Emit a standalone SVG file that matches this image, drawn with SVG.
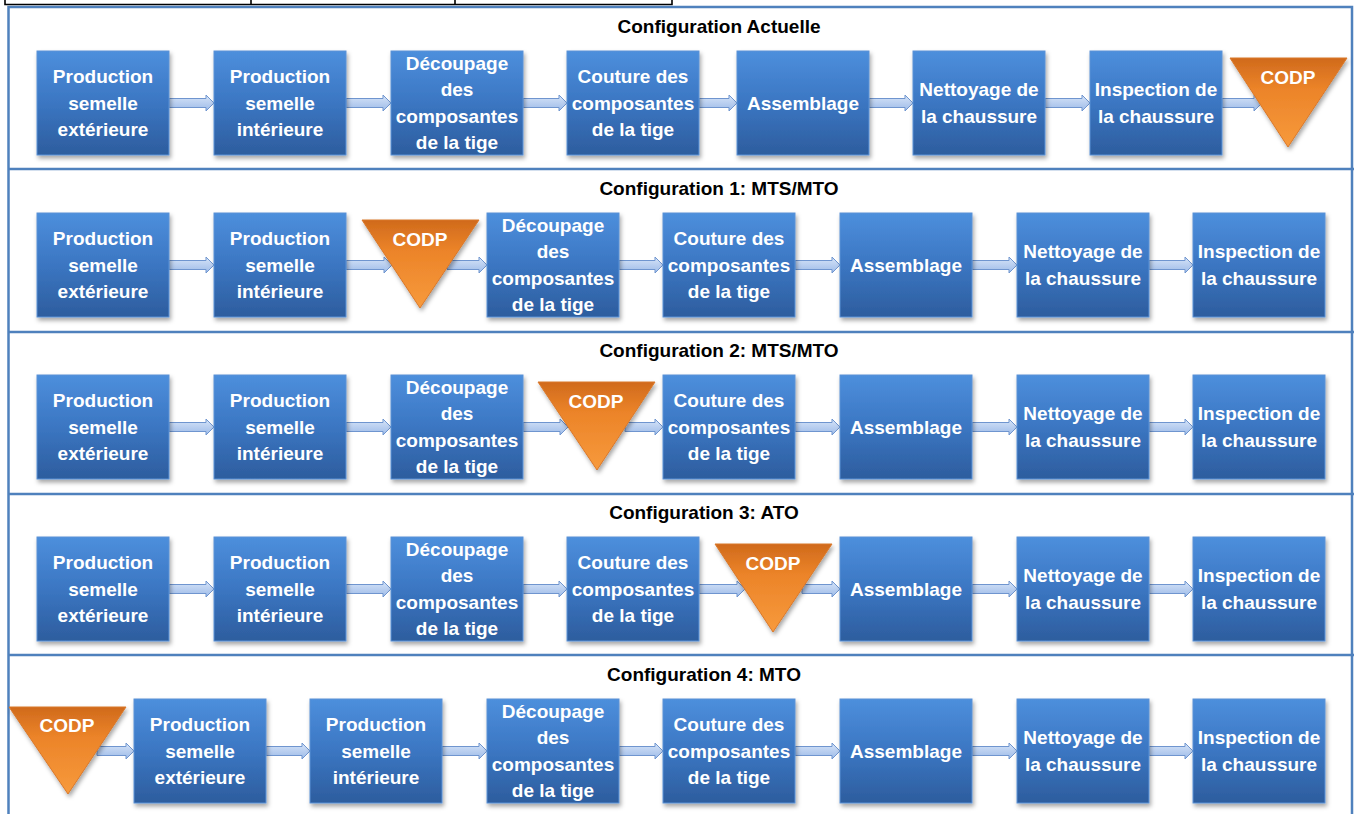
<svg xmlns="http://www.w3.org/2000/svg" width="1354" height="814" viewBox="0 0 1354 814">
<defs>
<linearGradient id="gBox" x1="0" y1="0" x2="0" y2="1">
<stop offset="0" stop-color="#4d8fdc"/>
<stop offset="0.5" stop-color="#3b76c2"/>
<stop offset="1" stop-color="#2d5d9e"/>
</linearGradient>
<linearGradient id="gTri" x1="0" y1="0" x2="0" y2="1">
<stop offset="0" stop-color="#d06a1c"/>
<stop offset="0.35" stop-color="#ec8429"/>
<stop offset="1" stop-color="#f79a3c"/>
</linearGradient>
<linearGradient id="gArr" x1="0" y1="0" x2="0" y2="1">
<stop offset="0" stop-color="#d6e4f8"/>
<stop offset="1" stop-color="#9dbbe8"/>
</linearGradient>
<filter id="sh" x="-10%" y="-10%" width="125%" height="130%">
<feDropShadow dx="1.5" dy="3" stdDeviation="2" flood-color="#000" flood-opacity="0.35"/>
</filter>
</defs>
<style>
.box{fill:url(#gBox);stroke:#5b92d6;stroke-width:1;filter:url(#sh)}
.tri{fill:url(#gTri);stroke:#d9782a;stroke-width:1;filter:url(#sh)}
.arr{fill:url(#gArr);stroke:#6f95cf;stroke-width:1}
.lbl{font-family:"Liberation Sans",Arial,sans-serif;font-weight:bold;font-size:19px;fill:#fff;text-anchor:middle}
.ttl{font-family:"Liberation Sans",Arial,sans-serif;font-weight:bold;font-size:19px;fill:#000;text-anchor:middle}
.frame{fill:none;stroke:#4f81bd;stroke-width:2.5}
.tbl{fill:none;stroke:#000;stroke-width:1.6}
</style>
<rect width="1354" height="814" fill="#fff"/>
<g id="table-remnant">
<path class="tbl" d="M5,0 V4.5 H672 V0 M251,0 V4.5 M455,0 V4.5"/>
</g>
<g id="frame">
<path class="frame" d="M8.5,814 V7 H1352 V814"/>
<path class="frame" d="M8.5,169 H1354 M8.5,332 H1354 M8.5,494 H1354 M8.5,655 H1354"/>
</g>
<g id="titles">
<text class="ttl" x="719" y="33">Configuration Actuelle</text>
<text class="ttl" x="719" y="195">Configuration 1: MTS/MTO</text>
<text class="ttl" x="719" y="357">Configuration 2: MTS/MTO</text>
<text class="ttl" x="704" y="519">Configuration 3: ATO</text>
<text class="ttl" x="704" y="681">Configuration 4: MTO</text>
</g>
<g id="connectors">
<path class="arr" d="M169,98.5H206V95L214,103L206,111V107.5H169Z"/>
<path class="arr" d="M346,98.5H383V95L391,103L383,111V107.5H346Z"/>
<path class="arr" d="M523,98.5H559V95L567,103L559,111V107.5H523Z"/>
<path class="arr" d="M699,98.5H729V95L737,103L729,111V107.5H699Z"/>
<path class="arr" d="M869,98.5H905V95L913,103L905,111V107.5H869Z"/>
<path class="arr" d="M1045,98.5H1082V95L1090,103L1082,111V107.5H1045Z"/>
<path class="arr" d="M1222,98.5H1254V95L1262,103L1254,111V107.5H1222Z"/>
<path class="arr" d="M169,260.5H206V257L214,265L206,273V269.5H169Z"/>
<path class="arr" d="M346,260.5H384V257L392,265L384,273V269.5H346Z"/>
<path class="arr" d="M447,260.5H479V257L487,265L479,273V269.5H447Z"/>
<path class="arr" d="M619,260.5H655V257L663,265L655,273V269.5H619Z"/>
<path class="arr" d="M795,260.5H832V257L840,265L832,273V269.5H795Z"/>
<path class="arr" d="M972,260.5H1009V257L1017,265L1009,273V269.5H972Z"/>
<path class="arr" d="M1149,260.5H1185V257L1193,265L1185,273V269.5H1149Z"/>
<path class="arr" d="M169,422.5H206V419L214,427L206,435V431.5H169Z"/>
<path class="arr" d="M346,422.5H383V419L391,427L383,435V431.5H346Z"/>
<path class="arr" d="M523,422.5H560V419L568,427L560,435V431.5H523Z"/>
<path class="arr" d="M625,422.5H655V419L663,427L655,435V431.5H625Z"/>
<path class="arr" d="M795,422.5H832V419L840,427L832,435V431.5H795Z"/>
<path class="arr" d="M972,422.5H1009V419L1017,427L1009,435V431.5H972Z"/>
<path class="arr" d="M1149,422.5H1185V419L1193,427L1185,435V431.5H1149Z"/>
<path class="arr" d="M169,584.5H206V581L214,589L206,597V593.5H169Z"/>
<path class="arr" d="M346,584.5H383V581L391,589L383,597V593.5H346Z"/>
<path class="arr" d="M523,584.5H559V581L567,589L559,597V593.5H523Z"/>
<path class="arr" d="M699,584.5H737V581L745,589L737,597V593.5H699Z"/>
<path class="arr" d="M802,584.5H832V581L840,589L832,597V593.5H802Z"/>
<path class="arr" d="M972,584.5H1009V581L1017,589L1009,597V593.5H972Z"/>
<path class="arr" d="M1149,584.5H1185V581L1193,589L1185,597V593.5H1149Z"/>
<path class="arr" d="M97,746.5H126V743L134,751L126,759V755.5H97Z"/>
<path class="arr" d="M266,746.5H302V743L310,751L302,759V755.5H266Z"/>
<path class="arr" d="M442,746.5H479V743L487,751L479,759V755.5H442Z"/>
<path class="arr" d="M619,746.5H655V743L663,751L655,759V755.5H619Z"/>
<path class="arr" d="M795,746.5H832V743L840,751L832,759V755.5H795Z"/>
<path class="arr" d="M972,746.5H1009V743L1017,751L1009,759V755.5H972Z"/>
<path class="arr" d="M1149,746.5H1185V743L1193,751L1185,759V755.5H1149Z"/>
</g>

<g id="r0-prod-ext"><rect class="box" x="37" y="51" width="132" height="104"/><text class="lbl" x="103" y="83">Production</text><text class="lbl" x="103" y="109.5">semelle</text><text class="lbl" x="103" y="136">extérieure</text></g>
<g id="r0-prod-int"><rect class="box" x="214" y="51" width="132" height="104"/><text class="lbl" x="280" y="83">Production</text><text class="lbl" x="280" y="109.5">semelle</text><text class="lbl" x="280" y="136">intérieure</text></g>
<g id="r0-decoupage"><rect class="box" x="391" y="51" width="132" height="104"/><text class="lbl" x="457" y="69.75">Découpage</text><text class="lbl" x="457" y="96.25">des</text><text class="lbl" x="457" y="122.75">composantes</text><text class="lbl" x="457" y="149.25">de la tige</text></g>
<g id="r0-couture"><rect class="box" x="567" y="51" width="132" height="104"/><text class="lbl" x="633" y="83">Couture des</text><text class="lbl" x="633" y="109.5">composantes</text><text class="lbl" x="633" y="136">de la tige</text></g>
<g id="r0-assemblage"><rect class="box" x="737" y="51" width="132" height="104"/><text class="lbl" x="803" y="109.5">Assemblage</text></g>
<g id="r0-nettoyage"><rect class="box" x="913" y="51" width="132" height="104"/><text class="lbl" x="979" y="96.25">Nettoyage de</text><text class="lbl" x="979" y="122.75">la chaussure</text></g>
<g id="r0-inspection"><rect class="box" x="1090" y="51" width="132" height="104"/><text class="lbl" x="1156" y="96.25">Inspection de</text><text class="lbl" x="1156" y="122.75">la chaussure</text></g>
<g id="r0-codp"><polygon class="tri" points="1230,58 1347,58 1288,147"/><text class="lbl" x="1288" y="83.5">CODP</text></g>

<g id="r1-prod-ext"><rect class="box" x="37" y="213" width="132" height="104"/><text class="lbl" x="103" y="245">Production</text><text class="lbl" x="103" y="271.5">semelle</text><text class="lbl" x="103" y="298">extérieure</text></g>
<g id="r1-prod-int"><rect class="box" x="214" y="213" width="132" height="104"/><text class="lbl" x="280" y="245">Production</text><text class="lbl" x="280" y="271.5">semelle</text><text class="lbl" x="280" y="298">intérieure</text></g>
<g id="r1-codp"><polygon class="tri" points="362,220 479,220 420,308"/><text class="lbl" x="420" y="246">CODP</text></g>
<g id="r1-decoupage"><rect class="box" x="487" y="213" width="132" height="104"/><text class="lbl" x="553" y="231.75">Découpage</text><text class="lbl" x="553" y="258.25">des</text><text class="lbl" x="553" y="284.75">composantes</text><text class="lbl" x="553" y="311.25">de la tige</text></g>
<g id="r1-couture"><rect class="box" x="663" y="213" width="132" height="104"/><text class="lbl" x="729" y="245">Couture des</text><text class="lbl" x="729" y="271.5">composantes</text><text class="lbl" x="729" y="298">de la tige</text></g>
<g id="r1-assemblage"><rect class="box" x="840" y="213" width="132" height="104"/><text class="lbl" x="906" y="271.5">Assemblage</text></g>
<g id="r1-nettoyage"><rect class="box" x="1017" y="213" width="132" height="104"/><text class="lbl" x="1083" y="258.25">Nettoyage de</text><text class="lbl" x="1083" y="284.75">la chaussure</text></g>
<g id="r1-inspection"><rect class="box" x="1193" y="213" width="132" height="104"/><text class="lbl" x="1259" y="258.25">Inspection de</text><text class="lbl" x="1259" y="284.75">la chaussure</text></g>

<g id="r2-prod-ext"><rect class="box" x="37" y="375" width="132" height="104"/><text class="lbl" x="103" y="407">Production</text><text class="lbl" x="103" y="433.5">semelle</text><text class="lbl" x="103" y="460">extérieure</text></g>
<g id="r2-prod-int"><rect class="box" x="214" y="375" width="132" height="104"/><text class="lbl" x="280" y="407">Production</text><text class="lbl" x="280" y="433.5">semelle</text><text class="lbl" x="280" y="460">intérieure</text></g>
<g id="r2-decoupage"><rect class="box" x="391" y="375" width="132" height="104"/><text class="lbl" x="457" y="393.75">Découpage</text><text class="lbl" x="457" y="420.25">des</text><text class="lbl" x="457" y="446.75">composantes</text><text class="lbl" x="457" y="473.25">de la tige</text></g>
<g id="r2-codp"><polygon class="tri" points="538,382 655,382 597,470"/><text class="lbl" x="596" y="408">CODP</text></g>
<g id="r2-couture"><rect class="box" x="663" y="375" width="132" height="104"/><text class="lbl" x="729" y="407">Couture des</text><text class="lbl" x="729" y="433.5">composantes</text><text class="lbl" x="729" y="460">de la tige</text></g>
<g id="r2-assemblage"><rect class="box" x="840" y="375" width="132" height="104"/><text class="lbl" x="906" y="433.5">Assemblage</text></g>
<g id="r2-nettoyage"><rect class="box" x="1017" y="375" width="132" height="104"/><text class="lbl" x="1083" y="420.25">Nettoyage de</text><text class="lbl" x="1083" y="446.75">la chaussure</text></g>
<g id="r2-inspection"><rect class="box" x="1193" y="375" width="132" height="104"/><text class="lbl" x="1259" y="420.25">Inspection de</text><text class="lbl" x="1259" y="446.75">la chaussure</text></g>

<g id="r3-prod-ext"><rect class="box" x="37" y="537" width="132" height="104"/><text class="lbl" x="103" y="569">Production</text><text class="lbl" x="103" y="595.5">semelle</text><text class="lbl" x="103" y="622">extérieure</text></g>
<g id="r3-prod-int"><rect class="box" x="214" y="537" width="132" height="104"/><text class="lbl" x="280" y="569">Production</text><text class="lbl" x="280" y="595.5">semelle</text><text class="lbl" x="280" y="622">intérieure</text></g>
<g id="r3-decoupage"><rect class="box" x="391" y="537" width="132" height="104"/><text class="lbl" x="457" y="555.75">Découpage</text><text class="lbl" x="457" y="582.25">des</text><text class="lbl" x="457" y="608.75">composantes</text><text class="lbl" x="457" y="635.25">de la tige</text></g>
<g id="r3-couture"><rect class="box" x="567" y="537" width="132" height="104"/><text class="lbl" x="633" y="569">Couture des</text><text class="lbl" x="633" y="595.5">composantes</text><text class="lbl" x="633" y="622">de la tige</text></g>
<g id="r3-codp"><polygon class="tri" points="715,544 832,544 773,632"/><text class="lbl" x="773" y="570">CODP</text></g>
<g id="r3-assemblage"><rect class="box" x="840" y="537" width="132" height="104"/><text class="lbl" x="906" y="595.5">Assemblage</text></g>
<g id="r3-nettoyage"><rect class="box" x="1017" y="537" width="132" height="104"/><text class="lbl" x="1083" y="582.25">Nettoyage de</text><text class="lbl" x="1083" y="608.75">la chaussure</text></g>
<g id="r3-inspection"><rect class="box" x="1193" y="537" width="132" height="104"/><text class="lbl" x="1259" y="582.25">Inspection de</text><text class="lbl" x="1259" y="608.75">la chaussure</text></g>

<g id="r4-codp"><polygon class="tri" points="9,707 126,707 68,794"/><text class="lbl" x="67" y="731.5">CODP</text></g>
<g id="r4-prod-ext"><rect class="box" x="134" y="699" width="132" height="104"/><text class="lbl" x="200" y="731">Production</text><text class="lbl" x="200" y="757.5">semelle</text><text class="lbl" x="200" y="784">extérieure</text></g>
<g id="r4-prod-int"><rect class="box" x="310" y="699" width="132" height="104"/><text class="lbl" x="376" y="731">Production</text><text class="lbl" x="376" y="757.5">semelle</text><text class="lbl" x="376" y="784">intérieure</text></g>
<g id="r4-decoupage"><rect class="box" x="487" y="699" width="132" height="104"/><text class="lbl" x="553" y="717.75">Découpage</text><text class="lbl" x="553" y="744.25">des</text><text class="lbl" x="553" y="770.75">composantes</text><text class="lbl" x="553" y="797.25">de la tige</text></g>
<g id="r4-couture"><rect class="box" x="663" y="699" width="132" height="104"/><text class="lbl" x="729" y="731">Couture des</text><text class="lbl" x="729" y="757.5">composantes</text><text class="lbl" x="729" y="784">de la tige</text></g>
<g id="r4-assemblage"><rect class="box" x="840" y="699" width="132" height="104"/><text class="lbl" x="906" y="757.5">Assemblage</text></g>
<g id="r4-nettoyage"><rect class="box" x="1017" y="699" width="132" height="104"/><text class="lbl" x="1083" y="744.25">Nettoyage de</text><text class="lbl" x="1083" y="770.75">la chaussure</text></g>
<g id="r4-inspection"><rect class="box" x="1193" y="699" width="132" height="104"/><text class="lbl" x="1259" y="744.25">Inspection de</text><text class="lbl" x="1259" y="770.75">la chaussure</text></g>
</svg>
